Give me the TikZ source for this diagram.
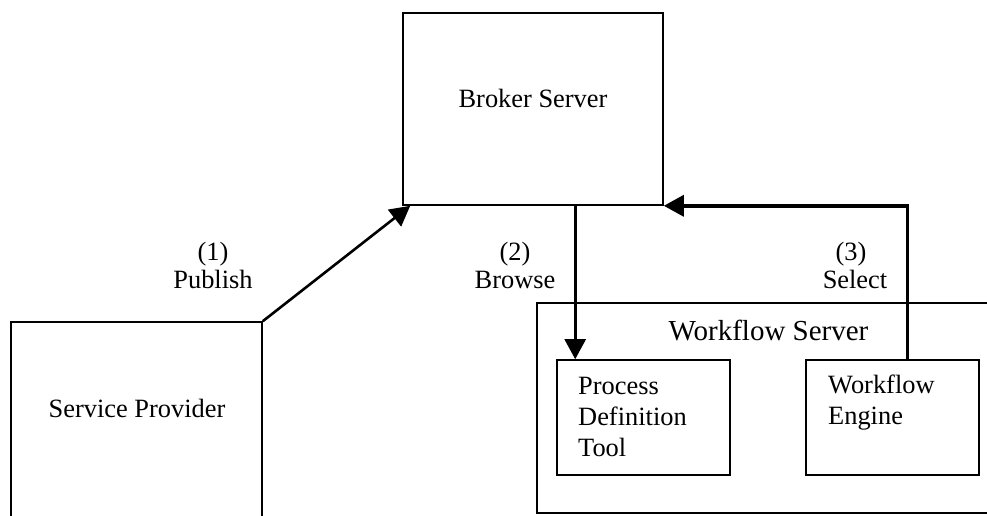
\documentclass[tikz,border=0pt]{standalone}
\usepackage{fontspec}
\setmainfont{Liberation Serif}
\usetikzlibrary{arrows.meta,calc}
\begin{document}
\begin{tikzpicture}[x=1pt,y=-1pt,
  box/.style={draw,line width=1.6pt,rectangle,inner sep=0pt},
  txt/.style={inner sep=0pt,font=\fontsize{26.4}{31}\selectfont},
  bigtxt/.style={inner sep=0pt,font=\fontsize{29}{34}\selectfont},
  arr/.style={line width=2.6pt,-{Triangle[length=20pt,width=21pt]}},
  selarr/.style={line width=3.4pt,-{Triangle[length=20pt,width=21pt]}}]
\useasboundingbox (0,0) rectangle (987,516);
\clip (0,0) rectangle (987,516);
% boxes
\node[box,minimum width=260,minimum height=192] (broker) at (533,109) {};
\node[box,minimum width=251,minimum height=218] (sp) at (136.5,431) {};
\node[box,minimum width=463,minimum height=210] (ws) at (768.5,408) {};
\node[box,minimum width=173,minimum height=115] (pd) at (643.5,417.5) {};
\node[box,minimum width=173,minimum height=115] (we) at (892.5,417.5) {};
% texts
\node[txt,anchor=base] (brokert) at (533,108) {Broker Server};
\node[txt,anchor=base] (spt) at (137,417) {Service Provider};
\node[bigtxt,anchor=base] (wst) at (768.5,340) {Workflow Server};
\node[txt,anchor=base west] (pd1) at (578,394) {Process};
\node[txt,anchor=base west] (pd2) at (578,425) {Definition};
\node[txt,anchor=base west] (pd3) at (578,456) {Tool};
\node[txt,anchor=base west] (we1) at (828,393) {Workflow};
\node[txt,anchor=base west] (we2) at (828,424) {Engine};
% labels
\node[txt,anchor=base] (l1a) at (213,260) {(1)};
\node[txt,anchor=base] (l1b) at (213,288) {Publish};
\node[txt,anchor=base] (l2a) at (515,260) {(2)};
\node[txt,anchor=base] (l2b) at (515,288) {Browse};
\node[txt,anchor=base] (l3a) at (851,260) {(3)};
\node[txt,anchor=base] (l3b) at (855,288) {Select};
% connectors
\draw[arr] (sp.north east) -- ([xshift=8]broker.south west);
\draw[arr] ([xshift=19]pd.north west |- broker.south) -- ([xshift=19]pd.north west);
\draw[selarr] ([xshift=15]we.north) |- (broker.south east);
\end{tikzpicture}
\end{document}
